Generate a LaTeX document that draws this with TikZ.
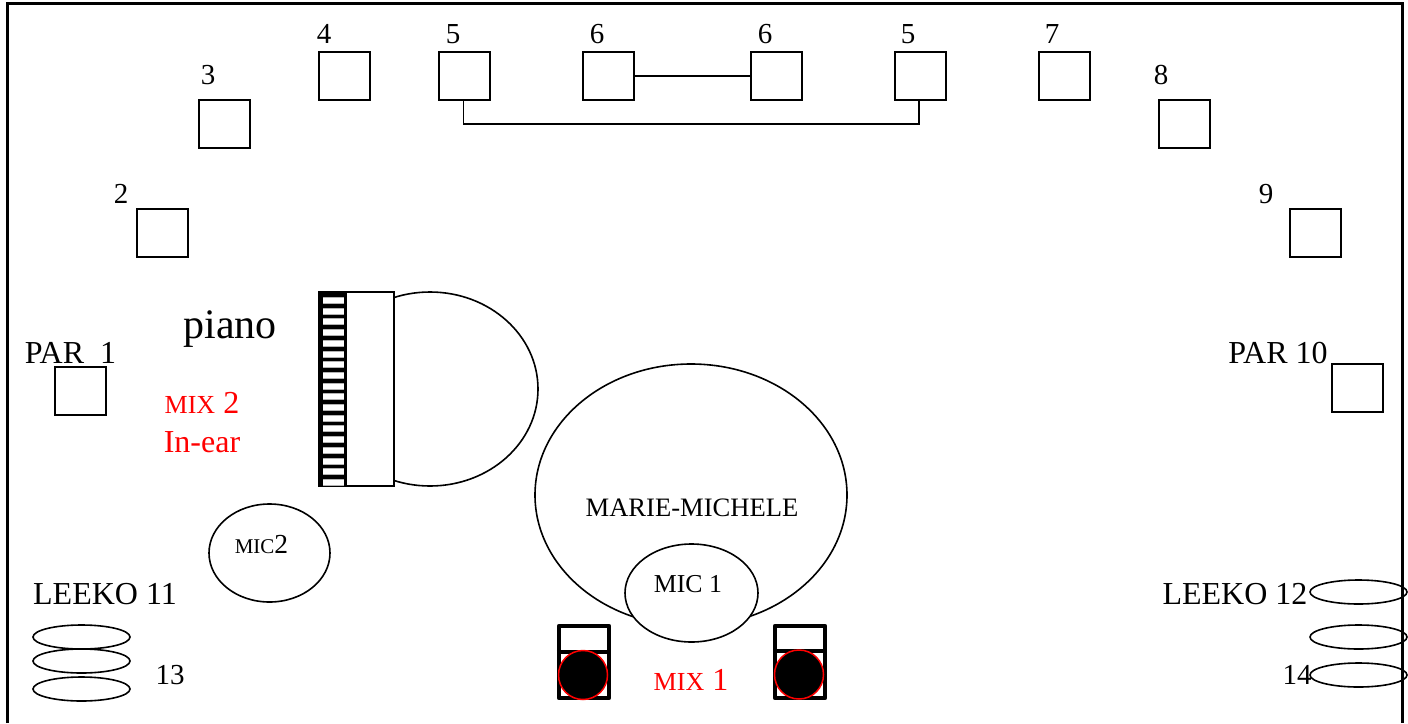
\documentclass[tikz,border=0pt]{standalone}
\usepackage{fontspec}
\setmainfont{Liberation Serif}
\usetikzlibrary{shapes.geometric,positioning}
\tikzset{
    lampbox/.style={draw, line width=1.5pt, minimum width=51pt, minimum height=48pt, inner sep=0pt},
    oval/.style={draw, ellipse, line width=1.6pt, inner sep=0pt},
    lbl/.style={anchor=base, inner sep=0pt, font=\fontsize{32}{34}\selectfont},
    numlbl/.style={lbl, font=\fontsize{29}{31}\selectfont},
    redlbl/.style={lbl, text=red},
    cabinet/.style={draw, line width=4.5pt, line join=round, minimum width=50pt, minimum height=72pt, inner sep=0pt},
    cone/.style={draw=red, fill=black, circle, line width=1.5pt, minimum size=49pt, inner sep=0pt}
}
\newcommand{\smalltxt}{\fontsize{26}{28}\selectfont}
\begin{document}
\begin{tikzpicture}[x=1pt,y=-1pt]
    \useasboundingbox (0,0) rectangle (1408,723);

    % Frame (open at the bottom)
    \draw[line width=3pt] (7.5,723) -- (7.5,3) -- (1402,3) -- (1402,723);

    % Light boxes
    \node[lampbox] (lamp2) at (162.5,233) {};
    \node[lampbox] (lamp3) at (224.5,124) {};
    \node[lampbox] (lamp4) at (344.5,76) {};
    \node[lampbox] (lamp5a) at (464.5,76) {};
    \node[lampbox] (lamp6a) at (608.5,76) {};
    \node[lampbox] (lamp6b) at (776.5,76) {};
    \node[lampbox] (lamp5b) at (920.5,76) {};
    \node[lampbox] (lamp7) at (1064.5,76) {};
    \node[lampbox] (lamp8) at (1184.5,124) {};
    \node[lampbox] (lamp9) at (1315.5,233) {};
    \node[lampbox] (par1) at (80.5,391) {};
    \node[lampbox] (par10) at (1357.5,388) {};

    % Links between lights
    \draw[line width=1.2pt] (lamp6a.east) -- (lamp6b.west);
    \draw[line width=1.7pt] ([xshift=-1pt]lamp5a.south) -- ++(0,23.5) -| ([xshift=-1.5pt]lamp5b.south);

    % Light numbers
    \node[numlbl] (n2) at (121,203) {2};
    \node[numlbl] (n3) at (208,84) {3};
    \node[numlbl] (n4) at (324,43) {4};
    \node[numlbl] (n5a) at (453,43) {5};
    \node[numlbl] (n6a) at (597,43) {6};
    \node[numlbl] (n6b) at (765,43) {6};
    \node[numlbl] (n5b) at (908,43) {5};
    \node[numlbl] (n7) at (1052,43) {7};
    \node[numlbl] (n8) at (1161,84) {8};
    \node[numlbl] (n9) at (1266,203) {9};
    \node[lbl] (parone) at (70.5,363) {PAR\ \ 1};
    \node[lbl] (parten) at (1278,363) {PAR 10};

    % Piano
    \node[oval, minimum width=216pt, minimum height=194pt] (pianobody) at (430,389) {};
    \node[draw, fill=white, line width=1.5pt, minimum width=75pt, minimum height=194pt, inner sep=0pt] (pianocase) at (356.5,389) {};
    \node[fill=black, minimum width=27pt, minimum height=194pt, inner sep=0pt] (keys) at (333,389) {};
    \foreach \k in {0,...,17} {
        \fill[gray!60] (323,297+10.7*\k) rectangle (344,304+10.7*\k);
        \fill[white] (323,298+10.7*\k) rectangle (344,303+10.7*\k);
    }
    \draw[line width=2pt] (318.5,388) -- (318.5,487);
    \node[lbl, font=\fontsize{42}{44}\selectfont] (pianolbl) at (230,338) {piano};

    % In-ear mix
    \node[redlbl] (mixtwo) at (202,413) {{\smalltxt MIX} 2};
    \node[redlbl] (inear) at (202,452) {In-ear};

    % Singer and microphones
    \node[oval, minimum width=312pt, minimum height=262pt] (singer) at (691,495) {};
    \node[lbl, font=\fontsize{26.6}{28}\selectfont] (singerlbl) at (692,516) {MARIE-MICHELE};
    \node[oval, fill=white, minimum width=133pt, minimum height=98pt] (micone) at (691.5,593) {};
    \node[lbl, font=\fontsize{25.8}{27}\selectfont] (miconelbl) at (688,592) {MIC 1};
    \node[oval, minimum width=121pt, minimum height=98pt] (mictwo) at (269.5,553) {};
    \node[lbl, font=\fontsize{27.5}{29}\selectfont] (mictwolbl) at (261.5,553) {{\fontsize{21}{23}\selectfont MIC}2};

    % Floor monitors
    \node[cabinet] (monleft) at (584,662) {};
    \draw[line width=3.5pt] (monleft.west |- 0,652) -- (monleft.east |- 0,652);
    \node[cone] (coneleft) at (583,675) {};
    \node[cabinet] (monright) at (800,662) {};
    \draw[line width=3.5pt] (monright.west |- 0,651) -- (monright.east |- 0,651);
    \node[cone] (coneright) at (799,674.5) {};
    \node[redlbl] (mixone) at (691,690) {{\smalltxt MIX} 1};

    % Leekos
    \node[lbl] (leekoleft) at (105,604) {LEEKO 11};
    \node[oval, minimum width=97pt, minimum height=24pt] (leekoa) at (81.5,637) {};
    \node[oval, minimum width=97pt, minimum height=24pt] (leekob) at (81.5,661) {};
    \node[oval, minimum width=97pt, minimum height=24pt] (leekoc) at (81.5,689) {};
    \node[numlbl] (nthirteen) at (170,684) {13};
    \node[lbl] (leekoright) at (1235,604) {LEEKO 12};
    \node[oval, minimum width=97pt, minimum height=24pt] (leekod) at (1358.5,592) {};
    \node[oval, minimum width=97pt, minimum height=24pt] (leekoe) at (1358.5,637) {};
    \node[oval, minimum width=97pt, minimum height=24pt] (leekof) at (1358.5,675) {};
    \node[numlbl] (nfourteen) at (1297,684) {14};
\end{tikzpicture}
\end{document}
